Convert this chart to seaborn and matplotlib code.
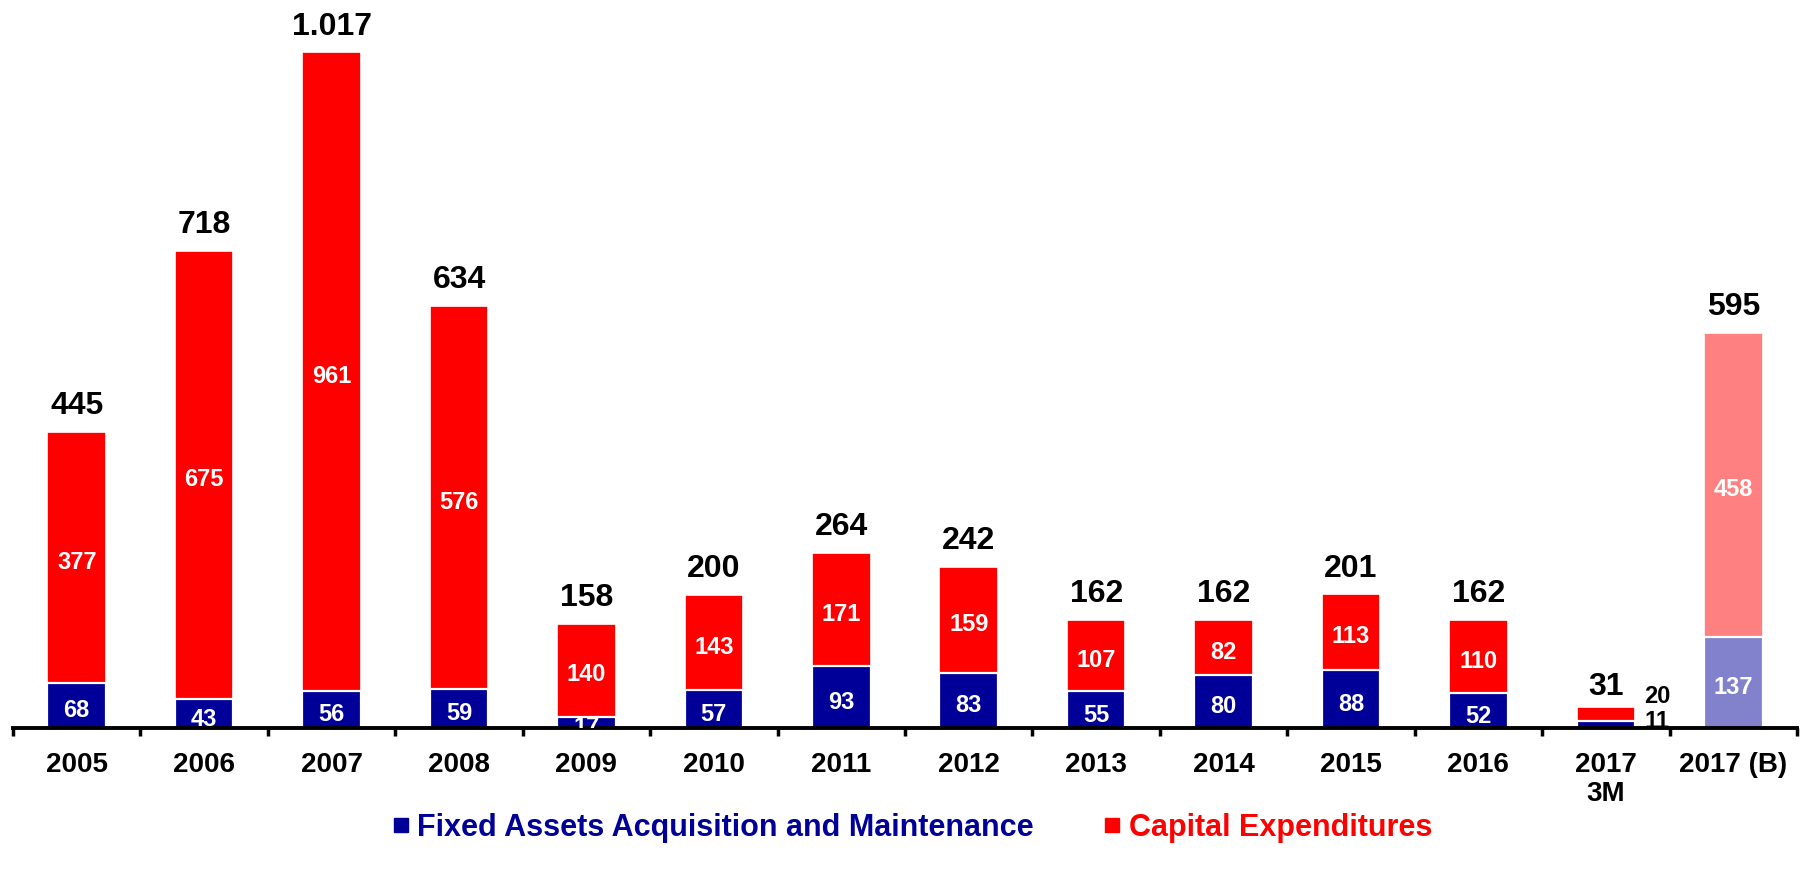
import matplotlib
matplotlib.use("Agg")
import matplotlib.pyplot as plt
from matplotlib.lines import Line2D
import seaborn as sns
import pandas as pd

# Chart data
periods = ["2005", "2006", "2007", "2008", "2009", "2010", "2011", "2012",
           "2013", "2014", "2015", "2016", "2017\n3M", "2017 (B)"]
fixed_assets = [68, 43, 56, 59, 17, 57, 93, 83, 55, 80, 88, 52, 11, 137]
capex = [377, 675, 961, 576, 140, 143, 171, 159, 107, 82, 113, 110, 20, 458]
total_labels = ["445", "718", "1.017", "634", "158", "200", "264", "242",
                "162", "162", "201", "162", "31", "595"]

NAVY = "#000099"
RED = "#FF0000"
NAVY_BUDGET = "#8282CC"
RED_BUDGET = "#FF8080"

df = pd.DataFrame({
    "period": periods,
    "fixed": fixed_assets,
    "capex": capex,
})
df["stack_top"] = df["fixed"] + df["capex"]

sns.set_theme(style="white")
plt.rcParams["font.family"] = ["Liberation Sans", "DejaVu Sans"]

fig = plt.figure(figsize=(18, 8.74), dpi=100)
ax = fig.add_axes([13 / 1800, (874 - 728) / 874, (1797 - 13) / 1800, 728 / 874])

red_palette = [RED] * (len(periods) - 1) + [RED_BUDGET]
blue_palette = [NAVY] * (len(periods) - 1) + [NAVY_BUDGET]

# Capital expenditures stacked on top of fixed assets (red drawn to stack top, blue over it)
sns.barplot(data=df, x="period", y="stack_top", hue="period", palette=red_palette,
            legend=False, width=0.46, edgecolor="white", linewidth=1.2, ax=ax,
            saturation=1)
sns.barplot(data=df, x="period", y="fixed", hue="period", palette=blue_palette,
            legend=False, width=0.46, edgecolor="white", linewidth=1.6, ax=ax,
            saturation=1)

ax.set_xlim(-0.5, len(periods) - 0.5)
ax.set_ylim(0, 1096)

quarter = len(periods) - 2  # the quarter-to-date bar is labelled outside
for i, (f, c, tot) in enumerate(zip(fixed_assets, capex, total_labels)):
    top = f + c
    gap = 19 if i == quarter else 27
    ax.text(i, top + gap, tot, ha="center", va="baseline", fontsize=23,
            fontweight="bold", color="black")
    if i == quarter:
        ax.text(i + 0.30, top + 16, str(c), ha="left", va="center", fontsize=17,
                fontweight="bold", color="black")
        ax.text(i + 0.30, 10, str(f), ha="left", va="center", fontsize=17,
                fontweight="bold", color="black", clip_on=True)
    else:
        ax.text(i, f + c / 2 - 7, str(c), ha="center", va="center", fontsize=17,
                fontweight="bold", color="white")
        ax.text(i, f / 2 - 8, str(f), ha="center", va="center", fontsize=17,
                fontweight="bold", color="white", clip_on=True)

# Axes styling
for side in ["top", "right", "left"]:
    ax.spines[side].set_visible(False)
ax.spines["bottom"].set_color("black")
ax.spines["bottom"].set_linewidth(2.8)
ax.set_yticks([])
ax.set_xlabel("")
ax.set_ylabel("")
ax.set_xticks(range(len(periods)))
ax.set_xticklabels(periods, fontsize=20, fontweight="bold", color="black",
                   linespacing=1.15)
ax.tick_params(axis="x", which="major", length=0, pad=17, bottom=True)
ax.set_xticks([i - 0.5 for i in range(len(periods) + 1)], minor=True)
ax.tick_params(axis="x", which="minor", length=6, width=2.5, color="black",
               direction="out", bottom=True)
ax.grid(False)

handles = [
    Line2D([], [], marker="s", linestyle="none", markersize=10, color=NAVY),
    Line2D([], [], marker="s", linestyle="none", markersize=10, color=RED),
]
labels = ["Fixed Assets Acquisition and Maintenance", "Capital Expenditures"]
fig.legend(handles, labels, loc="center", bbox_to_anchor=(0.507, 0.053),
           ncol=2, frameon=False, labelcolor=[NAVY, RED],
           prop={"size": 22, "weight": "bold"}, handlelength=0.5,
           handletextpad=0.3, columnspacing=2.3)

fig.savefig("out.png", dpi=100)
